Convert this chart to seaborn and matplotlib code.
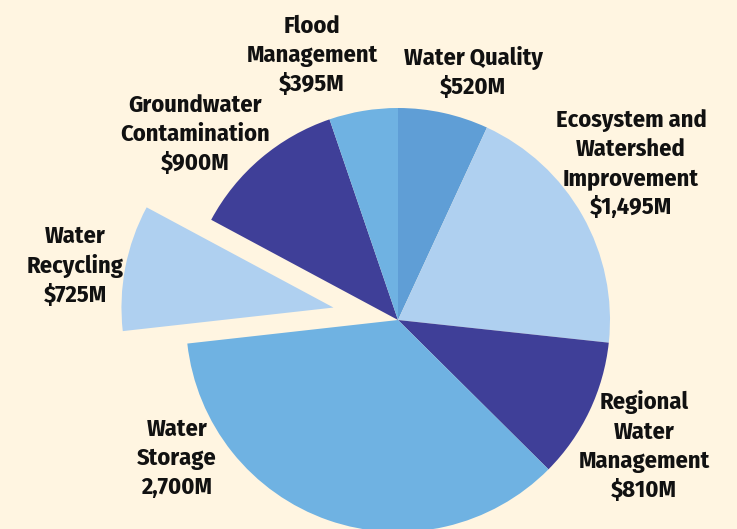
import matplotlib
matplotlib.use("Agg")
import matplotlib.pyplot as plt
import seaborn as sns

categories = ["Water Quality", "Ecosystem and\nWatershed\nImprovement", "Regional\nWater\nManagement",
              "Water\nStorage", "Water\nRecycling", "Groundwater\nContamination", "Flood\nManagement"]
values = [520, 1495, 810, 2700, 725, 900, 395]
value_labels = ["$520M", "$1,495M", "$810M", "2,700M", "$725M", "$900M", "$395M"]
explode = [0, 0, 0, 0, 0.31, 0, 0]

bg = "#FFF5E1"
colors = ["#5F9ED6", "#AFD0F0", "#3F3F98", "#6FB2E2", "#AFD0F0", "#3F3F98", "#6FB2E2"]

sns.set_style("white", {"axes.facecolor": bg, "figure.facecolor": bg})
plt.rcParams["font.family"] = ["Fira Sans Condensed", "DejaVu Sans"]
plt.rcParams["font.stretch"] = "condensed"

fig = plt.figure(figsize=(7.37, 5.29), dpi=100)
ax = fig.add_axes([0, 0, 1, 1])
ax.pie(values, colors=colors, explode=explode, startangle=90, counterclock=False,
       radius=1.0, wedgeprops={"linewidth": 0})
ax.set_aspect("equal")
ax.set_xlim(-398 / 212, (737 - 398) / 212)
ax.set_ylim(-209 / 212, 320 / 212)
ax.axis("off")

# label centres in pixel coordinates (x, y from top)
label_pos = [(473, 72), (631, 164), (644, 446), (177, 458), (75, 266), (195, 134), (312, 55)]
for cat, val, (px, py) in zip(categories, value_labels, label_pos):
    ax.text(px / 737, 1 - py / 529, cat + "\n" + val, transform=ax.transAxes,
            ha="center", va="center", fontsize=17.5, fontweight="bold",
            linespacing=1.33, color="#111111")

fig.savefig("out.png", dpi=100, facecolor=bg)
